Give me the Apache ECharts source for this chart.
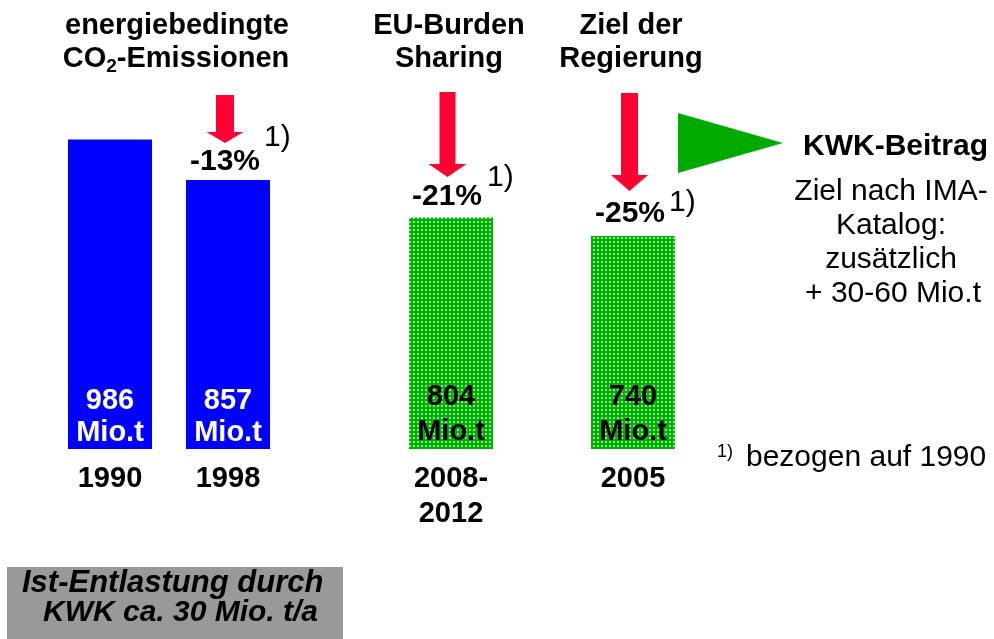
<!DOCTYPE html>
<html><head><meta charset="utf-8">
<script src="https://cdn.jsdelivr.net/npm/echarts@6/dist/echarts.min.js"></script>
<style>html,body{margin:0;padding:0;background:#fff}#c{width:994px;height:639px}</style>
</head><body><div id="c"></div>
<script>
// ---- data ----
const actualYears = ['1990', '1998'];
const actualValues = [986, 857];
const targetYears = ['2008-\n2012', '2005'];
const targetValues = [804, 740];
const reductionLabels = ['-13%', '-21%', '-25%'];
const unit = 'Mio.t';

// ---- styles ----
const FF = '"Liberation Sans", Arial, sans-serif';
const BLUE = '#0000ff';
const RED = '#ff0033';
const GREEN = '#00aa00';

// dotted green pattern for target bars
const pc = document.createElement('canvas');
pc.width = 4; pc.height = 4;
const g = pc.getContext('2d');
g.fillStyle = '#00b000'; g.fillRect(0, 0, 4, 4);
g.fillStyle = '#8ae48a'; g.fillRect(1, 1, 2, 2);
const greenPattern = { image: pc, repeat: 'repeat' };

function arrow(cx, top, headY, tip, shaftW, headW) {
  return {
    type: 'polygon',
    shape: { points: [
      [cx - shaftW / 2, top], [cx + shaftW / 2, top], [cx + shaftW / 2, headY],
      [cx + headW / 2, headY], [cx, tip], [cx - headW / 2, headY], [cx - shaftW / 2, headY]
    ] },
    style: { fill: RED }
  };
}
function txt(x, y, text, opt) {
  opt = opt || {};
  return {
    type: 'text', x: x, y: y,
    style: {
      text: text,
      fontFamily: FF,
      fontSize: opt.size || 29,
      fontWeight: opt.weight || 'bold',
      fontStyle: opt.style || 'normal',
      fill: opt.color || '#000',
      align: opt.align || 'center', textAlign: opt.align || 'center',
      verticalAlign: 'middle', textVerticalAlign: 'middle',
      rich: opt.rich
    }
  };
}

const catAxisLabel = {
  fontFamily: FF, fontSize: 29, fontWeight: 'bold', color: '#000',
  lineHeight: 35, margin: 12, interval: 0
};

const option = {
  animation: false,
  backgroundColor: '#fff',
  grid: [
    { left: 51, width: 236, top: 135, height: 314, outerBoundsMode: 'none', containLabel: false },
    { left: 360, width: 364, top: 161, height: 288, outerBoundsMode: 'none', containLabel: false }
  ],
  xAxis: [
    { type: 'category', gridIndex: 0, data: actualYears, axisLine: { show: false }, axisTick: { show: false }, axisLabel: catAxisLabel, splitLine: { show: false } },
    { type: 'category', gridIndex: 1, data: targetYears, axisLine: { show: false }, axisTick: { show: false }, axisLabel: catAxisLabel, splitLine: { show: false } }
  ],
  yAxis: [
    { type: 'value', gridIndex: 0, min: 0, max: 1000, show: false },
    { type: 'value', gridIndex: 1, min: 0, max: 1000, show: false }
  ],
  series: [
    {
      type: 'bar', xAxisIndex: 0, yAxisIndex: 0, data: actualValues, barWidth: 84,
      itemStyle: { color: BLUE },
      label: { show: true, position: 'insideBottom', distance: 0, formatter: p => p.value + '\n' + unit,
        color: '#fff', fontFamily: FF, fontSize: 29, fontWeight: 'bold', lineHeight: 32 }
    },
    {
      type: 'bar', xAxisIndex: 1, yAxisIndex: 1, data: targetValues, barWidth: 84,
      itemStyle: { color: greenPattern },
      label: { show: true, position: 'insideBottom', distance: 0, formatter: p => p.value + '\n' + unit,
        color: '#000', fontFamily: FF, fontSize: 29, fontWeight: 'bold', lineHeight: 35 }
    }
  ],
  graphic: [
    // titles
    txt(177, 26, 'energiebedingte'),
    txt(176, 59, 'CO{sub|2}-Emissionen', { rich: { sub: { fontFamily: FF, fontSize: 19, fontWeight: 'bold', padding: [15, 0, 0, 0] } } }),
    txt(449, 26, 'EU-Burden'),
    txt(449, 59, 'Sharing'),
    txt(631, 26, 'Ziel der'),
    txt(631, 59, 'Regierung'),
    // arrows
    arrow(225, 95, 132, 143, 18, 37),
    arrow(447.5, 92, 164, 177, 16, 38),
    arrow(629.5, 93, 175, 191, 17, 37),
    // reductions
    txt(225, 162, reductionLabels[0], { size: 30 }),
    txt(447, 197, reductionLabels[1], { size: 30 }),
    txt(630, 214, reductionLabels[2], { size: 30 }),
    txt(264, 138, '1)', { size: 30, weight: 'normal', align: 'left' }),
    txt(487, 178, '1)', { size: 30, weight: 'normal', align: 'left' }),
    txt(669, 203, '1)', { size: 30, weight: 'normal', align: 'left' }),
    // KWK triangle
    { type: 'polygon', shape: { points: [[678, 113], [678, 173], [783, 143]] }, style: { fill: GREEN } },
    txt(803, 147, 'KWK-Beitrag', { size: 30, align: 'left' }),
    txt(891, 192, 'Ziel nach IMA-', { size: 30, weight: 'normal' }),
    txt(891, 226, 'Katalog:', { size: 30, weight: 'normal' }),
    txt(891, 260, 'zusätzlich', { size: 30, weight: 'normal' }),
    txt(893, 294, '+ 30-60 Mio.t', { size: 30, weight: 'normal' }),
    // footnote
    txt(717, 452, '1)', { size: 18, weight: 'normal', align: 'left' }),
    txt(746, 458, 'bezogen auf 1990', { size: 30, weight: 'normal', align: 'left' }),
    // grey box
    { type: 'rect', shape: { x: 7, y: 567, width: 336, height: 72 }, style: { fill: '#999999' } },
    txt(22, 583, 'Ist-Entlastung durch', { size: 31, style: 'italic', align: 'left' }),
    txt(43, 613, 'KWK ca. 30 Mio. t/a', { size: 30, style: 'italic', align: 'left' })
  ]
};

const chart = echarts.init(document.getElementById('c'), null, { renderer: 'canvas' });
chart.setOption(option);
</script>
</body></html>
